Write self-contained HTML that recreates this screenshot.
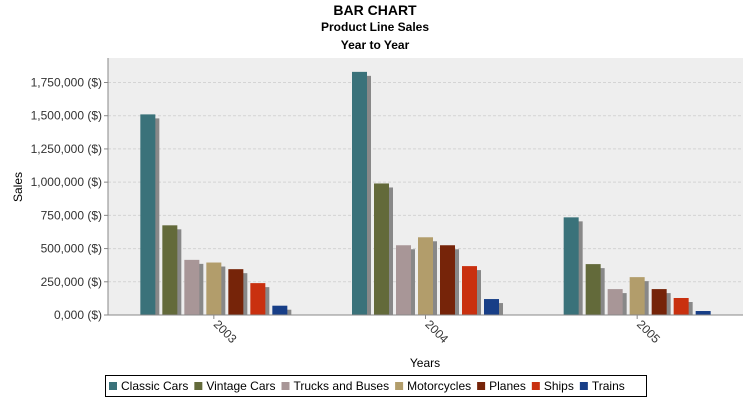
<!DOCTYPE html>
<html><head><meta charset="utf-8"><style>
body{margin:0;background:#fff;font-family:"Liberation Sans",sans-serif;}
svg text{font-family:"Liberation Sans",sans-serif;}
</style></head><body>
<svg id="c" width="750" height="400" viewBox="0 0 750 400">
<text x="375" y="15" text-anchor="middle" font-size="14" font-weight="bold">BAR CHART</text>
<text x="375" y="31" text-anchor="middle" font-size="12" font-weight="bold">Product Line Sales</text>
<text x="375" y="49" text-anchor="middle" font-size="12" font-weight="bold">Year to Year</text>
<rect x="108" y="58" width="635" height="257" fill="#eeeeee"/>
<g id="grid"></g><g id="bars"></g><g id="axes"></g>
<text x="22" y="187" text-anchor="middle" font-size="12" transform="rotate(-90 22 187)">Sales</text>
<text x="425" y="367" text-anchor="middle" font-size="12">Years</text>
<g id="legend"></g>
</svg>
<script>
const categories=["2003","2004","2005"];
const seriesNames=["Classic Cars","Vintage Cars","Trucks and Buses","Motorcycles","Planes","Ships","Trains"];
const colors=["#3a727a","#636a3a","#a89697","#b29d6b","#762409","#c9300f","#173e87"];
const classicCars=[1510000,1830000,735000];
const vintageCars=[675000,990000,383000];
const trucksBuses=[415000,525000,195000];
const motorcycles=[395000,585000,285000];
const planes=[345000,525000,195000];
const ships=[240000,368000,128000];
const trains=[70000,120000,30000];
const yTicks=[0,250000,500000,750000,1000000,1250000,1500000,1750000];
const yTickLabels=["0,000 ($)","250,000 ($)","500,000 ($)","750,000 ($)","1,000,000 ($)","1,250,000 ($)","1,500,000 ($)","1,750,000 ($)"];
const series=[classicCars,vintageCars,trucksBuses,motorcycles,planes,ships,trains];
const NS="http://www.w3.org/2000/svg";
const X0=108,X1=743,Y0=315,YMAX=1750000,YPX=232.5;
const y=v=>Y0-v/YMAX*YPX;
const catW=(X1-X0)/categories.length;
const cx=i=>X0+catW*(i+0.5);
const BW=15,STEP=22;
function mk(tag,attrs,parent){const e=document.createElementNS(NS,tag);for(const k in attrs)e.setAttribute(k,attrs[k]);parent.appendChild(e);return e;}
const grid=document.getElementById('grid'),bars=document.getElementById('bars'),axes=document.getElementById('axes'),legend=document.getElementById('legend');
yTicks.forEach((t,i)=>{
  if(t>0){const l=mk('line',{x1:X0,x2:X1,y1:y(t),y2:y(t),stroke:'#d4d4d4','stroke-dasharray':'3,2'},grid);
  
  }
  const tk=mk('line',{x1:X0-4,x2:X0,y1:y(t),y2:y(t),stroke:'#888'},axes);
  
  
  const tx=mk('text',{x:X0-6,y:y(t)+4,'text-anchor':'end','font-size':'12',fill:'#333'},axes);
  tx.textContent=yTickLabels[i];
  
  
});
const ya=mk('line',{x1:X0,x2:X0,y1:58,y2:Y0,stroke:'#888'},axes);


const xa=mk('line',{x1:X0,x2:X1,y1:Y0,y2:Y0,stroke:'#888'},axes);


categories.forEach((c,ci)=>{
  const start=cx(ci)-(STEP*(series.length-1)+BW)/2;
  series.forEach((s,si)=>{
    const bx=start+si*STEP,by=y(s[ci]);
    const sh=mk('rect',{x:bx+4,y:by+4,width:BW,height:Math.max(0,Y0-by-4),fill:'#888'},bars);
    
    
    const r=mk('rect',{x:bx,y:by,width:BW,height:Y0-by,fill:colors[si]},bars);
    
    
  });
  const tk=mk('line',{x1:cx(ci),x2:cx(ci),y1:Y0,y2:Y0+4,stroke:'#888'},axes);
  
  
  const tx=mk('text',{x:cx(ci)-1,y:Y0+10,'font-size':'12',fill:'#333',transform:'rotate(45 '+(cx(ci)-1)+' '+(Y0+10)+')'},axes);
  tx.textContent=c;
  
  
});
const lb=mk('rect',{x:105.5,y:375.5,width:541,height:21,fill:'#fff',stroke:'#000'},legend);


let lx=109;
seriesNames.forEach((n,i)=>{
  const sw=mk('rect',{x:lx,y:382,width:8,height:8,fill:colors[i]},legend);
  
  
  const t=mk('text',{x:lx+12,y:390,'font-size':'12'},legend);
  t.textContent=n;
  
  
  lx+=12+t.getComputedTextLength()+6;
});
</script>
</body></html>
